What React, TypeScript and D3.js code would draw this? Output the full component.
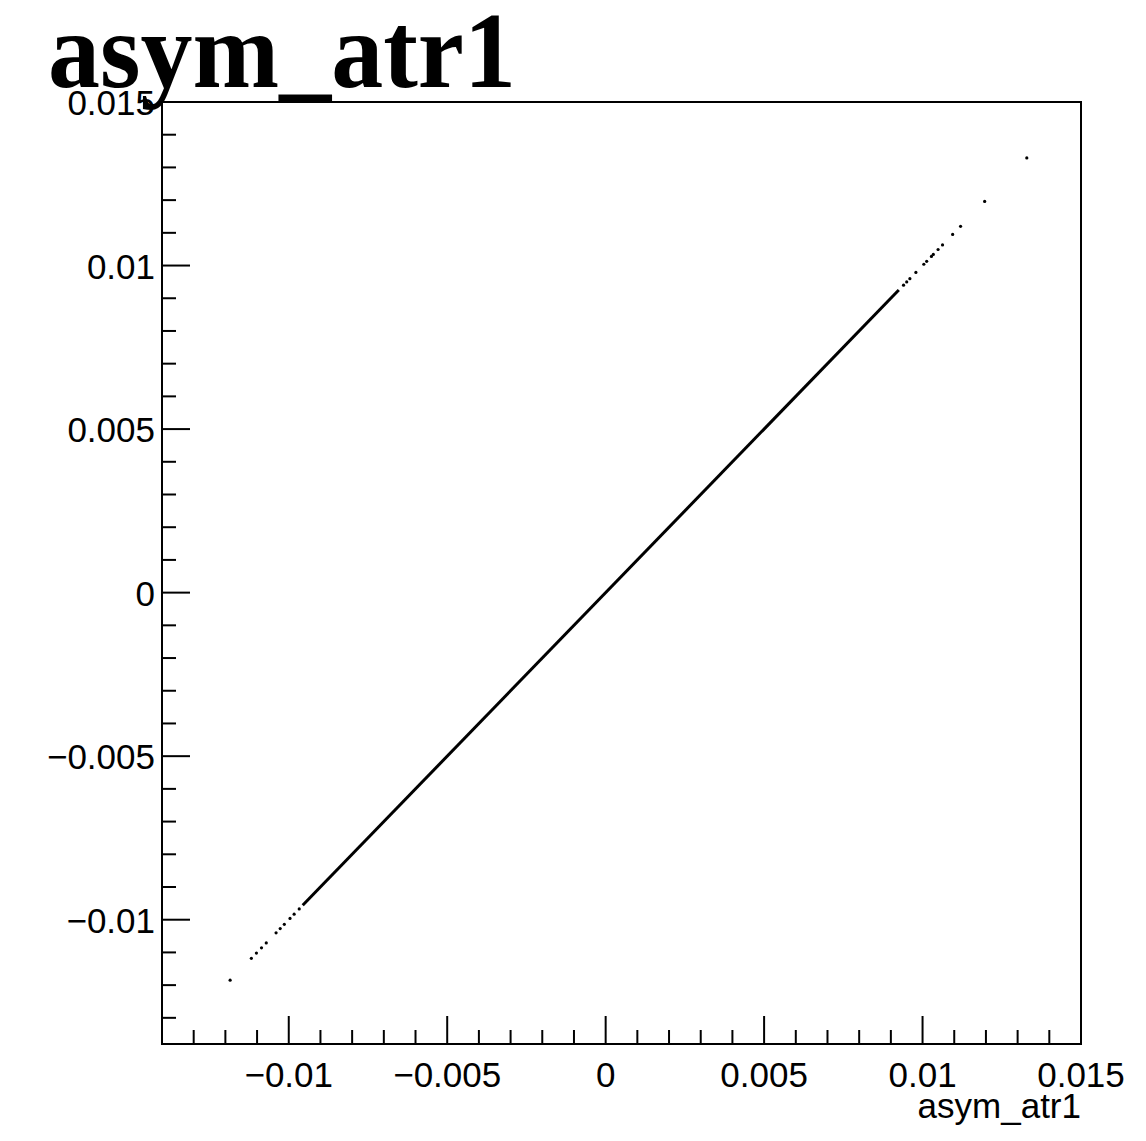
import React from "react";
import * as d3 from "d3";

// ---- data (asym_atr1 plotted against itself) ----
const title = "asym_atr1";
const xTitle = "asym_atr1";
const xDomain: [number, number] = [-0.014, 0.015];
const yDomain: [number, number] = [-0.0138, 0.015];
const majorTicks = [-0.01, -0.005, 0, 0.005, 0.01, 0.015];
const majorLabels = ["\u22120.01", "\u22120.005", "0", "0.005", "0.01", "0.015"];
const minorTicks = [
  -0.013, -0.012, -0.011, -0.009, -0.008, -0.007, -0.006, -0.004, -0.003, -0.002, -0.001,
  0.001, 0.002, 0.003, 0.004, 0.006, 0.007, 0.008, 0.009, 0.011, 0.012, 0.013, 0.014,
];
// dense, continuous band of entries (start, end)
const denseStart = -0.00956;
const denseEnd = 0.00925;
// isolated entries in the tails
const sparseValues = [
  -0.01185, -0.01118, -0.01102, -0.01086, -0.01071, -0.0104, -0.01027, -0.01014,
  -0.00996, -0.00983, -0.00967,
  0.0094, 0.0095, 0.0096, 0.00979, 0.01004, 0.01013, 0.01028, 0.01034, 0.01049,
  0.01063, 0.01095, 0.0112, 0.01196, 0.01329,
];

const W = 1146;
const H = 1141;
const left = 162;
const right = 1081;
const top = 102;
const bottom = 1044;

export default function App() {
  const x = d3.scaleLinear().domain(xDomain).range([left, right]);
  const y = d3.scaleLinear().domain(yDomain).range([bottom, top]);
  const line = d3
    .line<number>()
    .x((d) => x(d))
    .y((d) => y(d));
  const font = "'Liberation Sans', Arial, Helvetica, sans-serif";
  return (
    <svg
      width={W}
      height={H}
      style={{ position: "absolute", left: 0, top: 0, background: "#fff", display: "block" }}
    >
      <rect x={0} y={0} width={W} height={H} fill="#fff" />
      <text
        x={48}
        y={87}
        fontFamily="'Liberation Serif', 'Times New Roman', serif"
        fontWeight="bold"
        fontSize={108}
        textLength={468}
        lengthAdjust="spacingAndGlyphs"
        fill="#000"
      >
        {title}
      </text>
      {/* data */}
      <path d={line([denseStart, denseEnd]) || ""} stroke="#000" strokeWidth={3} fill="none" />
      {sparseValues.map((v, i) => (
        <circle key={i} cx={x(v)} cy={y(v)} r={1.6} fill="#000" />
      ))}
      {/* frame */}
      <rect
        x={left}
        y={top}
        width={right - left}
        height={bottom - top}
        fill="none"
        stroke="#000"
        strokeWidth={2}
      />
      {/* x ticks */}
      {majorTicks.map((t) => (
        <line key={"xm" + t} x1={x(t)} x2={x(t)} y1={bottom} y2={bottom - 28} stroke="#000" strokeWidth={2} />
      ))}
      {minorTicks.map((t) => (
        <line key={"xn" + t} x1={x(t)} x2={x(t)} y1={bottom} y2={bottom - 14} stroke="#000" strokeWidth={2} />
      ))}
      {/* y ticks */}
      {majorTicks.map((t) =>
        t <= yDomain[1] ? (
          <line key={"ym" + t} x1={left} x2={left + 28} y1={y(t)} y2={y(t)} stroke="#000" strokeWidth={2} />
        ) : null
      )}
      {minorTicks.map((t) =>
        t >= yDomain[0] && t <= yDomain[1] ? (
          <line key={"yn" + t} x1={left} x2={left + 14} y1={y(t)} y2={y(t)} stroke="#000" strokeWidth={2} />
        ) : null
      )}
      {/* x labels */}
      {majorTicks.map((t, i) => (
        <text key={"xl" + t} x={x(t)} y={1087} textAnchor="middle" fontFamily={font} fontSize={35} fill="#000">
          {majorLabels[i]}
        </text>
      ))}
      {/* y labels */}
      {majorTicks.map((t, i) => (
        <text key={"yl" + t} x={155} y={y(t) + 13} textAnchor="end" fontFamily={font} fontSize={35} fill="#000">
          {majorLabels[i]}
        </text>
      ))}
      <text x={right} y={1118} textAnchor="end" fontFamily={font} fontSize={35} fill="#000">
        {xTitle}
      </text>
    </svg>
  );
}
